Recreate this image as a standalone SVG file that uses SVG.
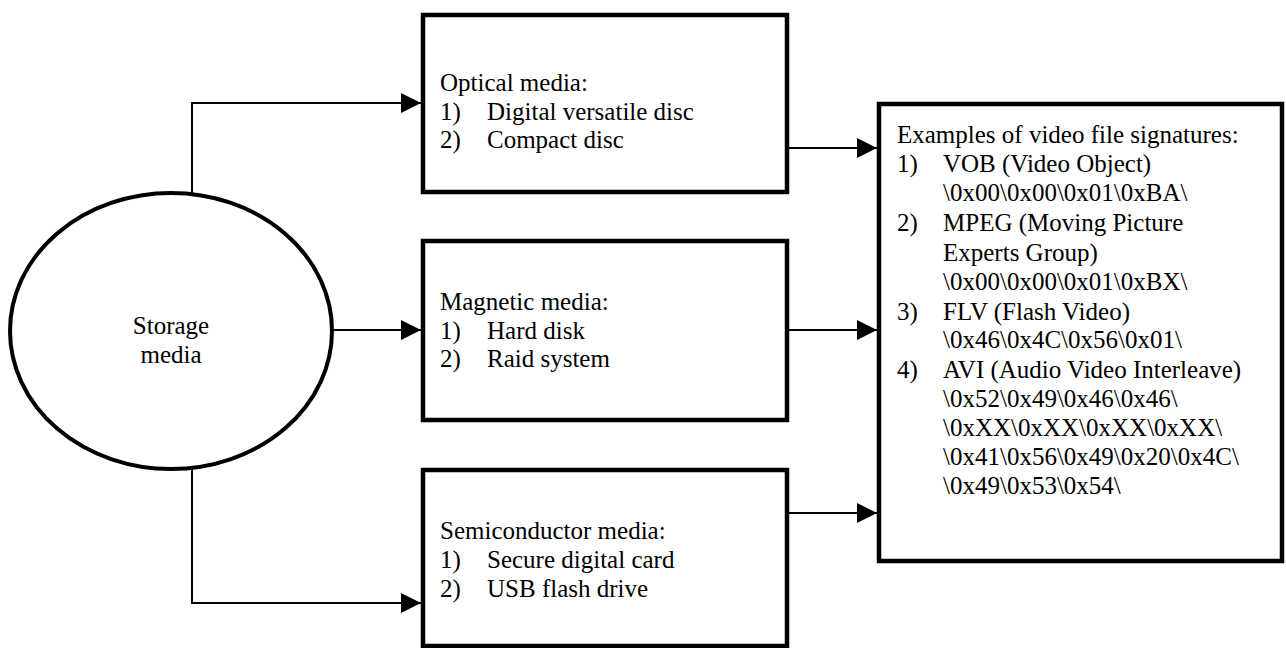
<svg xmlns="http://www.w3.org/2000/svg" width="1286" height="648" viewBox="0 0 1286 648">
<defs>
<style>
.box{fill:#fff;stroke:#000;stroke-width:4.5}
.t{font-family:"Liberation Serif","Times New Roman",serif;font-size:25px;fill:#000}
.c{fill:none;stroke:#000;stroke-width:2}
</style>
<marker id="ah" viewBox="0 0 10 10" refX="10" refY="5" markerWidth="22" markerHeight="20" markerUnits="userSpaceOnUse" orient="auto">
<path d="M0,0 L10,5 L0,10 Z" fill="#000"/>
</marker>
</defs>
<rect width="1286" height="648" fill="#fff"/>
<g id="connectors">
<path class="c" d="M192,194 V103 H421" marker-end="url(#ah)"/>
<path class="c" d="M332,330 H421" marker-end="url(#ah)"/>
<path class="c" d="M192,468 V603 H421" marker-end="url(#ah)"/>
<path class="c" d="M787,148 H877" marker-end="url(#ah)"/>
<path class="c" d="M787,330 H877" marker-end="url(#ah)"/>
<path class="c" d="M787,513 H877" marker-end="url(#ah)"/>
</g>
<g id="storage">
<ellipse cx="171" cy="331" rx="161" ry="138" fill="#fff" stroke="#000" stroke-width="4"/>
<text class="t" x="171" y="334" text-anchor="middle">Storage</text>
<text class="t" x="171" y="363" text-anchor="middle">media</text>
</g>
<g id="optical">
<rect class="box" x="423" y="15" width="364" height="177"/>
<text class="t" x="440" y="91">Optical media:</text>
<text class="t" x="440" y="120">1)</text><text class="t" x="487" y="120">Digital versatile disc</text>
<text class="t" x="440" y="148">2)</text><text class="t" x="487" y="148">Compact disc</text>
</g>
<g id="magnetic">
<rect class="box" x="423" y="241" width="364" height="179"/>
<text class="t" x="440" y="310">Magnetic media:</text>
<text class="t" x="440" y="339">1)</text><text class="t" x="487" y="339">Hard disk</text>
<text class="t" x="440" y="367">2)</text><text class="t" x="487" y="367">Raid system</text>
</g>
<g id="semiconductor">
<rect class="box" x="423" y="470" width="364" height="176"/>
<text class="t" x="440" y="539">Semiconductor media:</text>
<text class="t" x="440" y="568">1)</text><text class="t" x="487" y="568">Secure digital card</text>
<text class="t" x="440" y="597">2)</text><text class="t" x="487" y="597">USB flash drive</text>
</g>
<g id="signatures">
<rect class="box" x="879" y="104" width="403" height="457"/>
<text class="t" x="897" y="143">Examples of video file signatures:</text>
<text class="t" x="897" y="172">1)</text><text class="t" x="943" y="172">VOB (Video Object)</text>
<text class="t" x="943" y="201">\0x00\0x00\0x01\0xBA\</text>
<text class="t" x="897" y="231">2)</text><text class="t" x="943" y="231">MPEG (Moving Picture</text>
<text class="t" x="943" y="261">Experts Group)</text>
<text class="t" x="943" y="290">\0x00\0x00\0x01\0xBX\</text>
<text class="t" x="897" y="320">3)</text><text class="t" x="943" y="320">FLV (Flash Video)</text>
<text class="t" x="943" y="348">\0x46\0x4C\0x56\0x01\</text>
<text class="t" x="897" y="378">4)</text><text class="t" x="943" y="378">AVI (Audio Video Interleave)</text>
<text class="t" x="943" y="407">\0x52\0x49\0x46\0x46\</text>
<text class="t" x="943" y="436">\0xXX\0xXX\0xXX\0xXX\</text>
<text class="t" x="943" y="465">\0x41\0x56\0x49\0x20\0x4C\</text>
<text class="t" x="943" y="494">\0x49\0x53\0x54\</text>
</g>
</svg>
